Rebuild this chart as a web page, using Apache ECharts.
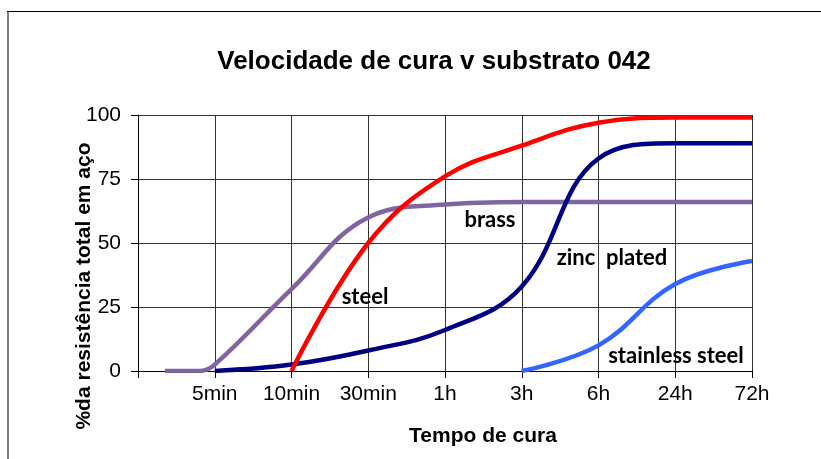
<!DOCTYPE html>
<html lang="pt">
<head>
    <meta charset="UTF-8">
    <title>Velocidade de cura v substrato 042</title>
    <script src="https://cdn.jsdelivr.net/npm/echarts@6/dist/echarts.min.js"></script>
    <style>
        html, body { margin: 0; padding: 0; background: #ffffff; }
        #chart { width: 821px; height: 459px; }
    </style>
</head>
<body>
<div id="chart"></div>
<script>
// tick labels for positions 1..8 on the x axis (position 0 is unlabelled)
var timeLabels = ['', '5min', '10min', '30min', '1h', '3h', '6h', '24h', '72h'];

// [x position, % of full strength]
var brass     = [[0.35, 0], [0.8, 0], [1, 2.5], [2, 32], [3, 60], [4, 65], [5, 66], [6, 66], [7, 66], [8, 66]];
var zinc      = [[1, 0], [2, 2.5], [3, 8], [4, 16], [5, 33], [6, 83], [7, 89], [8, 89]];
var steel     = [[2, 0], [3, 50], [4, 76], [5, 88], [6, 97], [7, 99], [8, 99]];
var stainless = [[5, 0], [6, 10], [7, 34], [8, 43]];

var chart = echarts.init(document.getElementById('chart'));

function lineSeries(name, data, color) {
    return {
        name: name, type: 'line', data: data, smooth: 0.4,
        symbol: 'none', lineStyle: { color: color, width: 4.5 }
    };
}

function centeredText(text, x, y, font, rotation) {
    return {
        type: 'text', x: x, y: y, rotation: rotation || 0, z: 10,
        style: {
            text: text, x: 0, y: 0, align: 'center', verticalAlign: 'middle',
            font: font, fill: '#000'
        }
    };
}

var labelFont = 'bold 22px Lato, "Open Sans", sans-serif';
var arialBold = 'bold 21px "Liberation Sans", Arial';

chart.setOption({
    animation: false,
    grid: { left: 138, right: 69, top: 115, bottom: 88 },
    xAxis: {
        type: 'value', min: 0, max: 8, interval: 1,
        axisLine: { lineStyle: { color: '#000', width: 1 } },
        axisTick: { show: true, length: 7, lineStyle: { color: '#000' } },
        axisLabel: {
            margin: 13, color: '#000', fontSize: 21, fontFamily: 'Liberation Sans, Arial',
            formatter: function (v) { return timeLabels[v] || ''; }
        },
        splitLine: { show: true, lineStyle: { color: '#333', width: 1 } }
    },
    yAxis: {
        type: 'value', min: 0, max: 100, interval: 25,
        axisLine: { show: true, lineStyle: { color: '#000', width: 1 } },
        axisTick: { show: true, length: 7, lineStyle: { color: '#000' } },
        axisLabel: { margin: 17, color: '#000', fontSize: 21, fontFamily: 'Liberation Sans, Arial' },
        splitLine: { show: true, lineStyle: { color: '#333', width: 1 } }
    },
    series: [
        lineSeries('brass', brass, '#8064A2'),
        lineSeries('zinc plated', zinc, '#000080'),
        lineSeries('steel', steel, '#FF0000'),
        lineSeries('stainless steel', stainless, '#3366FF')
    ],
    graphic: [
        // chart frame: grey left edge, black top edge
        { type: 'line', shape: { x1: 8, y1: 11, x2: 8, y2: 459 }, style: { stroke: '#808080', lineWidth: 2 } },
        { type: 'line', shape: { x1: 7, y1: 11.5, x2: 821, y2: 11.5 }, style: { stroke: '#000', lineWidth: 1 } },
        // title and axis titles
        centeredText('Velocidade de cura v substrato 042', 434, 62, 'bold 26px "Liberation Sans", Arial'),
        centeredText('Tempo de cura', 483, 436, arialBold),
        centeredText('%da resistência total em aço', 84, 286, arialBold, Math.PI / 2),
        // series labels
        centeredText('steel', 365, 297, labelFont),
        centeredText('brass', 490, 220, labelFont),
        centeredText('zinc  plated', 612, 258, labelFont),
        centeredText('stainless steel', 676, 356, labelFont)
    ]
});
</script>
</body>
</html>
